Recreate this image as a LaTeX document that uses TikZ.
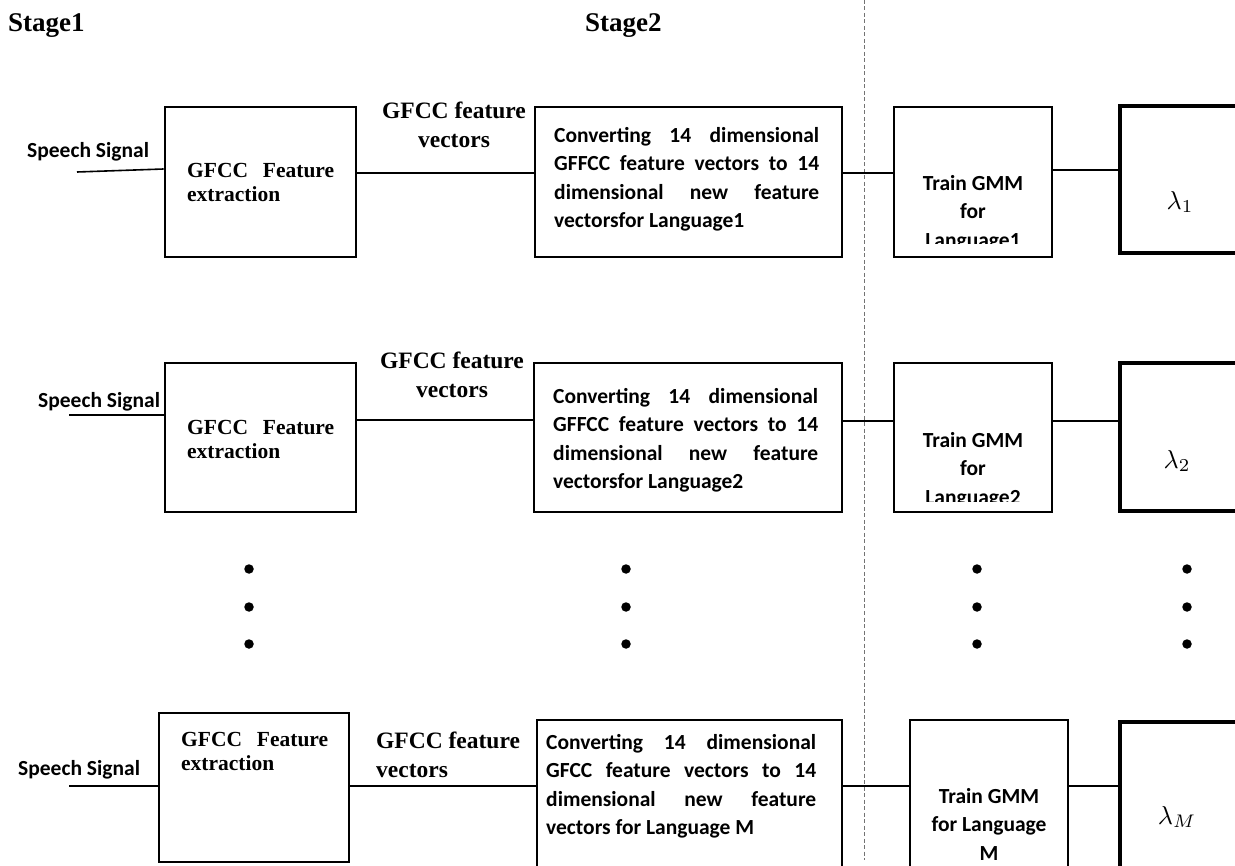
\documentclass[tikz,border=0pt]{standalone}
\usepackage{graphicx}
\usepackage{fontspec}
\setmainfont{Liberation Serif}
\newfontfamily\calibfont{Carlito}
\newcommand{\biglam}[1]{\scalebox{2.6}{$\lambda_{#1}$}}
\begin{document}
\begin{tikzpicture}[x=1pt,y=-1pt,
  box/.style={draw, line width=2.8pt, inner sep=0pt},
  lbox/.style={draw, line width=4pt, inner sep=0pt},
  conn/.style={line width=1.6pt},
  cal/.style={font=\calibfont\bfseries\fontsize{21.5}{28.5}\selectfont, inner sep=0pt},
  tms/.style={font=\bfseries\fontsize{21.5}{24}\selectfont, inner sep=0pt},
  lbl/.style={font=\bfseries\fontsize{23.5}{29}\selectfont, inner sep=0pt},
  stg/.style={font=\bfseries\fontsize{27}{30}\selectfont, inner sep=0pt},
  lam/.style={inner sep=0pt},
  dotm/.style={circle, fill=black, inner sep=0pt, minimum size=9.5pt},
  sep/.style={draw=black!55, line width=1pt, dash pattern=on 4pt off 2.5pt}
]
\useasboundingbox (0,0) rectangle (1235,866);
\clip (0,0) rectangle (1235,866);
\fill[white] (0,0) rectangle (1235,866);

% headings
\node[stg, anchor=north west] (st1) at (8,13) {Stage1};
\node[stg, anchor=north west] (st2) at (585,13) {Stage2};

% separator
\coordinate (sepA) at (864,0);
\coordinate (sepB) at (864,860);
\draw[sep] (sepA) -- (sepB);

% ---------- Row 1 ----------
\node[box, minimum width=191pt, minimum height=150pt] (b11) at (260.5,182) {};
\node[box, minimum width=307pt, minimum height=150pt] (b12) at (688.5,182) {};
\node[box, minimum width=158pt, minimum height=150pt] (b13) at (973,182) {};
\node[lbox, minimum width=130pt, minimum height=147pt] (b14) at (1185,179.5) {};

\node[cal, anchor=north west] (sp1t) at (27,142) {Speech Signal};
\coordinate (sp1) at (77,172);
\draw[conn] (sp1) -- (b11.west |- 0,169);
\node[tms, anchor=north west, align=left] (t11) at (187,163) {\makebox[147pt][s]{GFCC Feature}\\extraction};
\node[lbl, anchor=north, align=center] (l1) at (454,102) {GFCC feature\\vectors};
\draw[conn] (b11.east |- 0,173) -- (b12.west |- 0,173);
\node[cal, anchor=north west, align=left] (t12) at (554,127) {\makebox[265pt][s]{Converting 14 dimensional}\\\makebox[265pt][s]{GFFCC feature vectors to 14}\\\makebox[265pt][s]{dimensional new feature}\\vectorsfor Language1};
\draw[conn] (b12.east |- 0,173) -- (b13.west |- 0,173);
\begin{scope}
\clip (894,107) rectangle (1052,244);
\node[cal, anchor=north, align=center] (t13) at (973,175) {Train GMM\\for\\Language1};
\end{scope}
\draw[conn] (b13.east |- 0,170) -- (b14.west |- 0,170);
\node[lam] (t14) at (1180,202) {\biglam{1}};

% ---------- Row 2 ----------
\node[box, minimum width=191pt, minimum height=149pt] (b21) at (260.5,437.5) {};
\node[box, minimum width=308pt, minimum height=149pt] (b22) at (688,437.5) {};
\node[box, minimum width=158pt, minimum height=149pt] (b23) at (973,437.5) {};
\node[lbox, minimum width=125pt, minimum height=148pt] (b24) at (1182.5,437) {};

\node[cal, anchor=north west] (sp2t) at (38,392) {Speech Signal};
\coordinate (sp2) at (69,415);
\draw[conn] (sp2) -- (b21.west |- 0,415);
\node[tms, anchor=north west, align=left] (t21) at (187,420) {\makebox[147pt][s]{GFCC Feature}\\extraction};
\node[lbl, anchor=north, align=center] (l2) at (452,352) {GFCC feature\\vectors};
\draw[conn] (b21.east |- 0,420) -- (b22.west |- 0,420);
\node[cal, anchor=north west, align=left] (t22) at (553,388) {\makebox[265pt][s]{Converting 14 dimensional}\\\makebox[265pt][s]{GFFCC feature vectors to 14}\\\makebox[265pt][s]{dimensional new feature}\\vectorsfor Language2};
\draw[conn] (b22.east |- 0,421) -- (b23.west |- 0,421);
\begin{scope}
\clip (894,363) rectangle (1052,502);
\node[cal, anchor=north, align=center] (t23) at (973,432) {Train GMM\\for\\Language2};
\end{scope}
\draw[conn] (b23.east |- 0,421) -- (b24.west |- 0,421);
\node[lam] (t24) at (1177,461) {\biglam{2}};

% ---------- dots ----------
\foreach \x in {249,626,977,1187}{
  \foreach \y in {569,607,644}{
    \node[dotm] (d-\x-\y) at (\x,\y) {};
  }
}

% ---------- Row 3 ----------
\node[box, minimum width=190pt, minimum height=149pt] (b31) at (254,787.5) {};
\node[box, minimum width=305pt, minimum height=180pt] (b32) at (689.5,810) {};
\node[box, minimum width=158pt, minimum height=180pt] (b33) at (989,810) {};
\node[lbox, minimum width=125pt, minimum height=178pt] (b34) at (1182.5,811) {};

\node[cal, anchor=north west] (sp3t) at (18,760) {Speech Signal};
\coordinate (sp3) at (69,786);
\draw[conn] (sp3) -- (b31.west |- 0,786);
\node[tms, anchor=north west, align=left] (t31) at (181,732) {\makebox[147pt][s]{GFCC Feature}\\extraction};
\node[lbl, anchor=north west, align=left] (l3) at (376,732) {GFCC feature\\vectors};
\draw[conn] (b31.east |- 0,786) -- (b32.west |- 0,786);
\node[cal, anchor=north west, align=left] (t32) at (546,734) {\makebox[270pt][s]{Converting 14 dimensional}\\\makebox[270pt][s]{GFCC feature vectors to 14}\\\makebox[270pt][s]{dimensional new feature}\\vectors for Language M};
\draw[conn] (b32.east |- 0,786) -- (b33.west |- 0,786);
\node[cal, anchor=north, align=center] (t33) at (989,788) {Train GMM\\for Language\\M};
\draw[conn] (b33.east |- 0,786) -- (b34.west |- 0,786);
\node[lam] (t34) at (1177,817) {\biglam{M}};
\end{tikzpicture}
\end{document}
